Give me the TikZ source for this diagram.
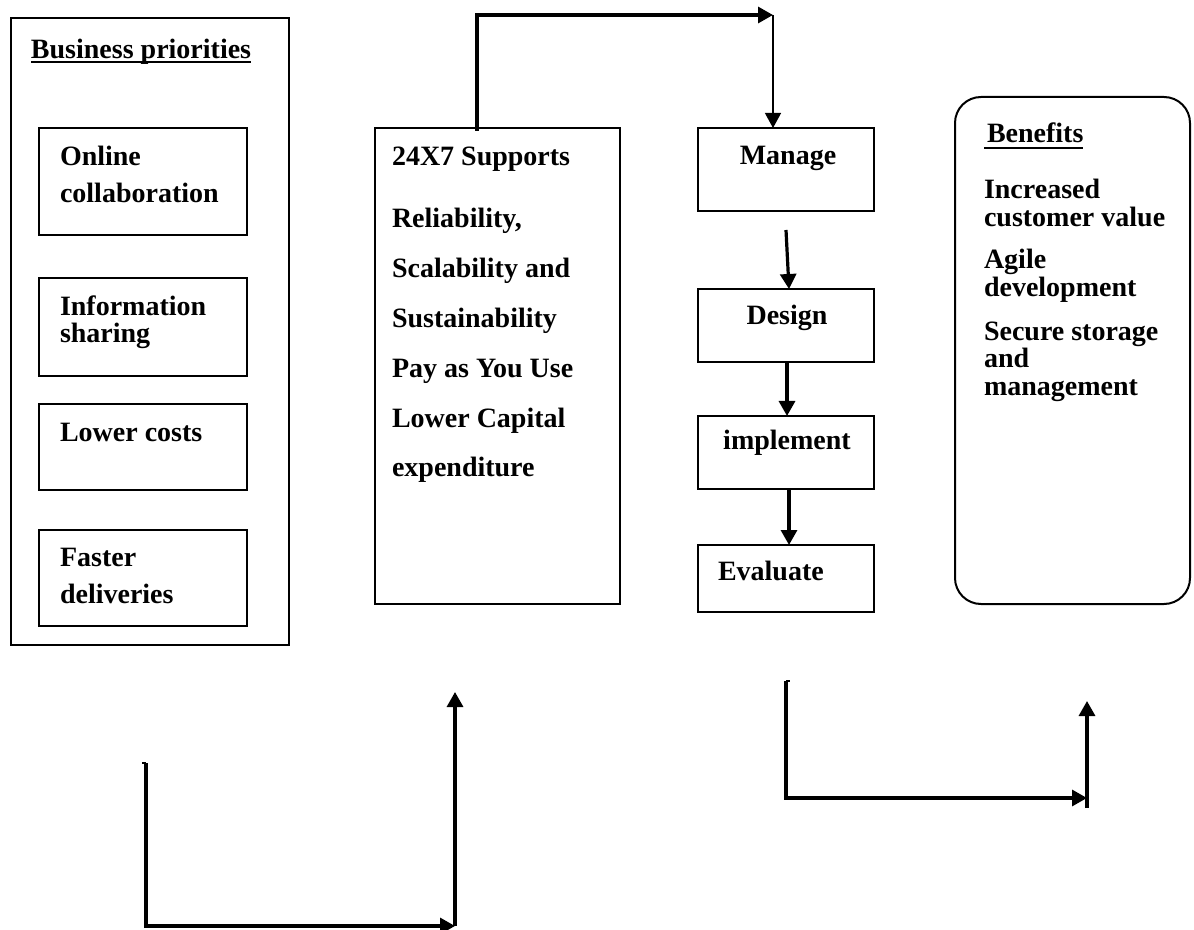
\documentclass[tikz,border=0pt]{standalone}
\usepackage{fontspec}
\setmainfont{Liberation Serif}
\usetikzlibrary{arrows.meta}
\begin{document}
\begin{tikzpicture}[x=0.5pt,y=-0.5pt,
  box/.style={draw, line width=1pt, inner sep=0pt, outer sep=0pt},
  txt/.style={inner sep=0pt, outer sep=0pt, font=\fontsize{14}{14}\selectfont\bfseries},
  lt/.style={txt, anchor=base west},
  ct/.style={txt, anchor=base},
  tip/.style={-{Triangle[length=7.5pt,width=8pt]}},
  arr/.style={line width=1.6pt, tip},
  thinarr/.style={line width=0.6pt, tip},
  plain/.style={line width=1.4pt},
  uline/.style={line width=1pt}]
\useasboundingbox (0,0) rectangle (1194,930);

% ---------- left column ----------
\node[box, minimum width=139pt, minimum height=313.5pt] (outer) at (150,331.5) {};
\node[lt] (bp) at (31,59) {Business priorities};
\draw[uline] ([yshift=-1.6pt]bp.base west) -- ([yshift=-1.6pt]bp.base east);

\node[box, minimum width=104pt, minimum height=53.5pt] (online) at (143,181.5) {};
\node[lt] (t1) at (60,166) {Online};
\node[lt] (t2) at (60,203) {collaboration};

\node[box, minimum width=104pt, minimum height=49pt] (info) at (143,327) {};
\node[lt] (t3) at (60,316) {Information};
\node[lt] (t4) at (60,343) {sharing};

\node[box, minimum width=104pt, minimum height=43pt] (lower) at (143,447) {};
\node[lt] (t5) at (60,442) {Lower costs};

\node[box, minimum width=104pt, minimum height=48pt] (faster) at (143,578) {};
\node[lt] (t6) at (60,566) {Faster};
\node[lt] (t7) at (60,603) {deliveries};

% ---------- 24X7 box ----------
\node[box, minimum width=122.5pt, minimum height=238pt] (sup) at (497.5,366) {};
\node[lt] (s1) at (392,166) {24X7 Supports};
\node[lt] (s2) at (392,228) {Reliability,};
\node[lt] (s3) at (392,278) {Scalability and};
\node[lt] (s4) at (392,328) {Sustainability};
\node[lt] (s5) at (392,378) {Pay as You Use};
\node[lt] (s6) at (392,428) {Lower Capital};
\node[lt] (s7) at (392,477) {expenditure};

% ---------- process column ----------
\node[box, minimum width=88pt, minimum height=41.5pt] (manage) at (786,169.5) {};
\node[ct] (m1) at (788,165) {Manage};
\node[box, minimum width=88pt, minimum height=36.5pt] (design) at (786,325.5) {};
\node[ct] (d1) at (787,325) {Design};
\node[box, minimum width=88pt, minimum height=36.5pt] (impl) at (786,452.5) {};
\node[ct] (i1) at (787,450) {implement};
\node[box, minimum width=88pt, minimum height=33.5pt] (eval) at (786,578.5) {};
\node[lt] (e1) at (718,580) {Evaluate};

% ---------- benefits ----------
\node[box, rounded corners=13pt, minimum width=117.5pt, minimum height=253.5pt] (ben) at (1072.5,350.5) {};
\node[lt] (b0) at (987,143) {Benefits};
\draw[uline] ([xshift=-1.5pt,yshift=-2.5pt]b0.base west) -- ([yshift=-2.5pt]b0.base east);
\node[lt] (b1) at (984,199) {Increased};
\node[lt] (b2) at (984,227) {customer value};
\node[lt] (b3) at (984,269) {Agile};
\node[lt] (b4) at (984,297) {development};
\node[lt] (b5) at (984,341) {Secure storage};
\node[lt] (b6) at (984,368) {and};
\node[lt] (b7) at (984,396) {management};

% ---------- connectors ----------
\coordinate (topL) at (477,15);
\coordinate (topR) at (773,15);
\draw[arr] ([yshift=-1.5pt]topL |- sup.north) -- (topL) -- (topR);
\draw[thinarr] (topR) -- (topR |- manage.north);

\draw[arr] ([yshift=-9.5pt]manage.south) -- ([xshift=1.5pt]design.north);
\draw[arr] ([xshift=0.5pt]design.south) -- ([xshift=0.5pt]impl.north);
\draw[arr] ([xshift=1.5pt]impl.south) -- ([xshift=1.5pt]eval.north);

% bottom-left L connector
\coordinate (blA) at (146,763);
\coordinate (blB) at (455,926);
\coordinate (blC) at (455,692);
\draw[plain] ([xshift=-2pt]blA) -- (blA);
\draw[arr] (blA) |- (blB);
\draw[arr] (blB) -- (blC);

% bottom-right L connector
\coordinate (brA) at (786,681);
\coordinate (brB) at (1087,798);
\coordinate (brS) at (1087,808);
\coordinate (brC) at (1087,701);
\draw[plain] (brA) -- ([xshift=2pt]brA);
\draw[arr] (brA) |- (brB);
\draw[arr] (brS) -- (brC);
\end{tikzpicture}
\end{document}
